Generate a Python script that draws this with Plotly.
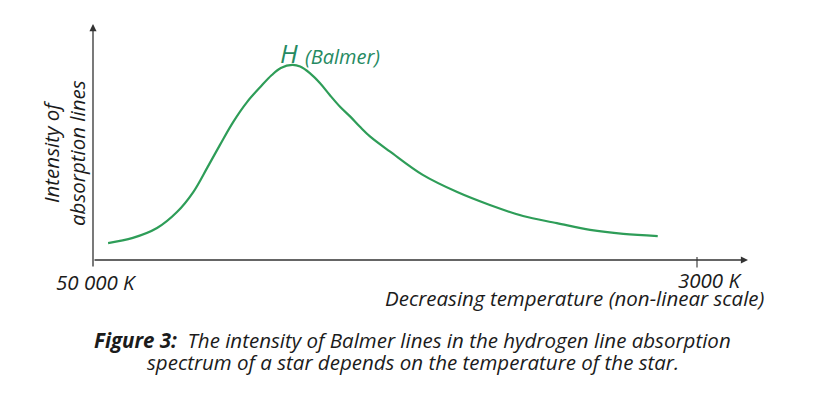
import plotly.graph_objects as go

# Position along the (non-linear) temperature axis: 0 = 50 000 K, 100 = 3000 K
temp_pos = [2.5, 6.6, 10.6, 13.9, 16.6, 18.9, 21.0, 23.2, 25.5, 27.7, 29.6, 31.1,
            33.0, 34.3, 35.9, 37.6, 39.2, 40.9, 42.6, 44.2, 45.9, 49.2, 54.6,
            60.3, 65.7, 71.2, 76.8, 82.3, 87.8, 93.5]
# Relative intensity of Balmer absorption lines
intensity = [7.2, 9.4, 13.6, 20.4, 28.9, 39.2, 48.9, 58.7, 67.2, 73.6, 78.7, 81.7,
             83.0, 82.3, 79.5, 75.2, 70.2, 65.2, 61.0, 56.7, 52.5, 46.1, 36.2,
             28.9, 23.4, 18.7, 15.7, 12.8, 11.1, 10.2]
tick_pos = [0, 100]
tick_labels = ["50 000 K", "3000 K"]

# page has 8px body margin -> figure drawn 8px in from window edges
OFF = 8
W, H = 817 - 2 * OFF, 398 - 2 * OFF
X0_PX, X100_PX = 93, 697
Y0_PX, YPX_PER = 260, 2.35
sx = (X100_PX - X0_PX) / 100.0
PL, PR, PT, PB = 90, 750, 22, 270   # plot area in window pixels


def px2x(px):
    return (px - X0_PX) / sx


def py2y(py):
    return (Y0_PX - py) / YPX_PER


def ppx(px):
    return (px - PL) / (PR - PL)


def ppy(py):
    return (PB - py) / (PB - PT)


xr = [px2x(PL), px2x(PR)]
yr = [py2y(PB), py2y(PT)]

FONT = "Open Sans"
TXT = "#1b1b1b"
GREEN = "#2e9d58"
FS = 20.5


def f(size=FS, color=TXT):
    return dict(family=FONT, size=size, color=color, style="italic")


def txt(text, xpx, ypx, xanchor="center", size=FS, color=TXT, angle=0):
    return dict(x=ppx(xpx), y=ppy(ypx), xref="paper", yref="paper", text=text,
                showarrow=False, xanchor=xanchor, yanchor="middle",
                textangle=angle, font=f(size, color))


fig = go.Figure()
fig.add_trace(go.Scatter(x=temp_pos, y=intensity, mode="lines",
                         line=dict(color=GREEN, width=2.2, shape="spline", smoothing=1.0),
                         hoverinfo="skip", showlegend=False))

ann = []
AX = "#333333"
# axes with arrows
ann.append(dict(x=px2x(748), y=0, ax=0, ay=0, xref="x", yref="y", axref="x", ayref="y",
                text="", showarrow=True, arrowhead=2, arrowsize=1.1, arrowwidth=1.3,
                arrowcolor=AX))
ann.append(dict(x=0, y=py2y(24), ax=0, ay=py2y(268), xref="x", yref="y", axref="x", ayref="y",
                text="", showarrow=True, arrowhead=2, arrowsize=1.1, arrowwidth=1.3,
                arrowcolor=AX))
# 3000 K tick
ann.append(dict(x=tick_pos[1], y=py2y(257), ax=tick_pos[1], ay=py2y(269), xref="x", yref="y",
                axref="x", ayref="y", text="", showarrow=True, arrowhead=0, arrowwidth=1.1,
                arrowcolor=AX))
# tick labels
ann.append(txt(tick_labels[0], 54, 281.5, xanchor="left"))
ann.append(txt(tick_labels[1], 744, 280, xanchor="right"))
# x title
ann.append(txt("Decreasing temperature (non-linear scale)", 767, 297.5, xanchor="right"))
# y title (two lines)
ann.append(txt("Intensity of", 51, 152, angle=-90))
ann.append(txt("absorption lines", 77, 153, angle=-90))
# curve label
ann.append(txt("H", 278, 53, xanchor="left", size=26, color="#268a62"))
ann.append(txt("(Balmer)", 303, 56, xanchor="left", size=20, color="#268a62"))
# caption
ann.append(txt("<b>Figure 3:</b>  The intensity of Balmer lines in the hydrogen line absorption",
               412.5, 339.5))
ann.append(txt("spectrum of a star depends on the temperature of the star.", 412.5, 361.5))

fig.update_layout(
    width=W, height=H,
    margin=dict(l=PL - OFF, r=W - (PR - OFF), t=PT - OFF, b=H - (PB - OFF), pad=0),
    paper_bgcolor="white", plot_bgcolor="white",
    xaxis=dict(range=xr, visible=False, fixedrange=True),
    yaxis=dict(range=yr, visible=False, fixedrange=True),
    annotations=ann,
    showlegend=False,
)
fig.write_html("out.html")
